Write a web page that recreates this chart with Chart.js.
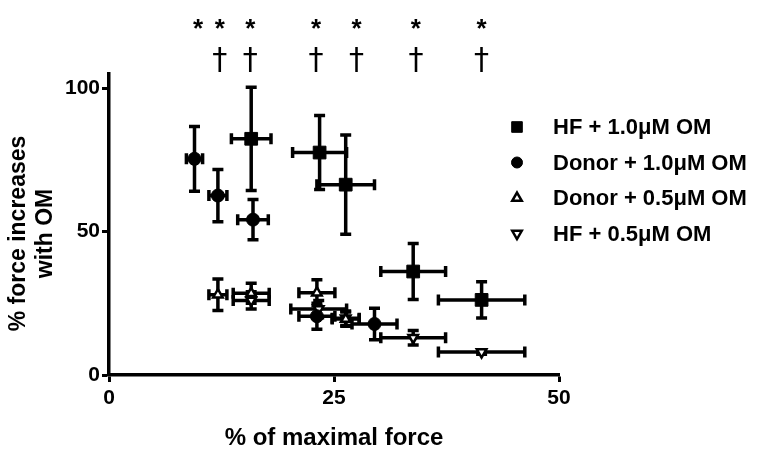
<!DOCTYPE html>
<html>
<head>
<meta charset="utf-8">
<script src="https://cdn.jsdelivr.net/npm/chart.js@4"></script>
<style>
  html, body { margin: 0; padding: 0; background: #fff; }
  #wrap { width: 763px; height: 457px; }
</style>
</head>
<body>
<div id="wrap"><canvas id="myChart"></canvas></div>
<script>
const FONT = '"Liberation Sans", Arial, sans-serif'

// values (x = % of maximal force, y = % force increase)
const hf10X = [15.8, 23.4, 26.3, 33.8, 41.4]
const hf10Y = [82.4, 77.6, 66.4, 36.1, 26.2]
const hf10XErr = [2.2, 3.0, 3.2, 3.6, 4.8]
const hf10YErr = [18.0, 12.9, 17.3, 9.8, 6.3]

const donor10X = [9.5, 12.1, 16.0, 23.1, 29.5]
const donor10Y = [75.4, 62.6, 54.2, 20.5, 17.8]
const donor10XErr = [0.9, 1.0, 1.7, 2.0, 2.5]
const donor10YErr = [11.3, 9.1, 7.0, 4.5, 5.5]

const donor05X = [12.1, 15.8, 23.1, 26.3]
const donor05Y = [28.0, 28.5, 28.7, 19.5]
const donor05XErr = [1.0, 2.0, 2.0, 1.5]
const donor05YErr = [5.5, 3.5, 4.5, 2.5]

const hf05X = [15.8, 23.3, 26.3, 33.8, 41.4]
const hf05Y = [26.0, 23.0, 19.8, 13.0, 8.0]
const hf05XErr = [2.0, 3.1, 1.5, 3.6, 4.8]
const hf05YErr = [3.0, 3.0, 2.5, 2.5, 0.8]

const seriesLabels = ['HF + 1.0μM OM', 'Donor + 1.0μM OM', 'Donor + 0.5μM OM', 'HF + 0.5μM OM']
const yTitle = ['% force increases', 'with OM']

// significance marks above the plot
const starX = [9.9, 12.3, 15.7, 23.0, 27.5, 34.1, 41.4]
const daggerX = [12.3, 15.7, 23.0, 27.5, 34.1, 41.4]

const xTicks = [0, 25, 50]
const yTicks = [0, 50, 100]

function pts(xs, ys, xe, ye) {
  return xs.map((x, i) => ({ x: x, y: ys[i], xErr: xe[i], yErr: ye[i] }))
}

const errorBars = {
  id: 'errorBars',
  beforeDatasetsDraw(chart) {
    const ctx = chart.ctx
    const xs = chart.scales.x
    const ys = chart.scales.y
    const cap = 5.5
    ctx.save()
    ctx.strokeStyle = '#000'
    ctx.lineWidth = 3.5
    ctx.lineCap = 'butt'
    chart.data.datasets.forEach(ds => {
      ds.data.forEach(p => {
        const cx = xs.getPixelForValue(p.x)
        const cy = ys.getPixelForValue(p.y)
        const x1 = xs.getPixelForValue(p.x - p.xErr)
        const x2 = xs.getPixelForValue(p.x + p.xErr)
        const y1 = ys.getPixelForValue(p.y + p.yErr)
        const y2 = ys.getPixelForValue(p.y - p.yErr)
        ctx.beginPath()
        ctx.moveTo(x1, cy); ctx.lineTo(x2, cy)
        ctx.moveTo(x1, cy - cap); ctx.lineTo(x1, cy + cap)
        ctx.moveTo(x2, cy - cap); ctx.lineTo(x2, cy + cap)
        ctx.moveTo(cx, y1); ctx.lineTo(cx, y2)
        ctx.moveTo(cx - cap, y1); ctx.lineTo(cx + cap, y1)
        ctx.moveTo(cx - cap, y2); ctx.lineTo(cx + cap, y2)
        ctx.stroke()
      })
    })
    ctx.restore()
  }
}

const extras = {
  id: 'extras',
  afterDraw(chart) {
    const ctx = chart.ctx
    const xs = chart.scales.x
    const ys = chart.scales.y
    ctx.save()
    ctx.fillStyle = '#000'
    ctx.textAlign = 'center'
    ctx.textBaseline = 'middle'
    ctx.font = 'bold 26px ' + FONT
    starX.forEach(v => ctx.fillText('*', xs.getPixelForValue(v), 30))
    ctx.font = '30px "DejaVu Sans"'
    daggerX.forEach(v => ctx.fillText('†', xs.getPixelForValue(v), 61))

    // y axis title
    ctx.save()
    ctx.translate(0, (ys.top + ys.bottom) / 2 + 9)
    ctx.rotate(-Math.PI / 2)
    ctx.font = 'bold 23px ' + FONT
    ctx.fillText(yTitle[0], 0, 19)
    ctx.fillText(yTitle[1], 0, 46)
    ctx.restore()

    // legend
    const lx = 517, tx = 553, y0 = 127, dy = 35.5
    ctx.textAlign = 'left'
    ctx.font = 'bold 22px ' + FONT
    chart.data.datasets.forEach((ds, i) => {
      const y = y0 + i * dy
      const open = ds.pointStyle === 'triangle'
      ctx.fillStyle = open ? '#fff' : '#000'
      ctx.strokeStyle = '#000'
      ctx.lineWidth = open ? 2.5 : 1
      Chart.helpers.drawPoint(ctx, {
        pointStyle: ds.pointStyle,
        rotation: ds.pointRotation || 0,
        radius: ds.pointStyle === 'rect' ? 7.5 : 5.5,
        borderWidth: ctx.lineWidth
      }, lx, y)
      ctx.fillStyle = '#000'
      ctx.fillText(ds.label, tx, y + 1)
    })
    ctx.restore()
  }
}

const ctx1 = document.getElementById('myChart')

const myChart = new Chart(ctx1, {
  type: 'scatter',
  data: {
    datasets: [
      {
        label: seriesLabels[0],
        data: pts(hf10X, hf10Y, hf10XErr, hf10YErr),
        pointStyle: 'rect', pointRadius: 9,
        backgroundColor: '#000', borderColor: '#000', pointBorderWidth: 1
      },
      {
        label: seriesLabels[1],
        data: pts(donor10X, donor10Y, donor10XErr, donor10YErr),
        pointStyle: 'circle', pointRadius: 6.5,
        backgroundColor: '#000', borderColor: '#000', pointBorderWidth: 1
      },
      {
        label: seriesLabels[2],
        data: pts(donor05X, donor05Y, donor05XErr, donor05YErr),
        pointStyle: 'triangle', pointRadius: 5.5,
        backgroundColor: '#fff', borderColor: '#000', pointBorderWidth: 2.5
      },
      {
        label: seriesLabels[3],
        data: pts(hf05X, hf05Y, hf05XErr, hf05YErr),
        pointStyle: 'triangle', pointRotation: 180, pointRadius: 5.5,
        backgroundColor: '#fff', borderColor: '#000', pointBorderWidth: 2.5
      }
    ]
  },
  options: {
    responsive: true,
    maintainAspectRatio: false,
    animation: false,
    layout: { padding: { top: 74, right: 204, left: 0, bottom: 4 } },
    plugins: {
      legend: { display: false },
      tooltip: { enabled: false }
    },
    scales: {
      x: {
        type: 'linear',
        min: 0, max: 50,
        afterBuildTicks: s => { s.ticks = xTicks.map(v => ({ value: v })) },
        afterFit: s => { s.height = 78 },
        ticks: { color: '#000', font: { family: FONT, size: 21, weight: 'bold' }, padding: 4 },
        grid: { drawOnChartArea: false, drawTicks: true, tickLength: 7, tickWidth: 3, tickColor: '#000' },
        border: { display: true, width: 3.5, color: '#000' },
        title: {
          display: true, text: '% of maximal force', color: '#000',
          font: { family: FONT, size: 24, weight: 'bold' }, padding: { top: 14, bottom: 0 }
        }
      },
      y: {
        type: 'linear',
        min: 0, max: 105,
        afterBuildTicks: s => { s.ticks = yTicks.map(v => ({ value: v })) },
        afterFit: s => { s.width = 109 },
        ticks: { color: '#000', font: { family: FONT, size: 21, weight: 'bold' }, padding: 2 },
        grid: { drawOnChartArea: false, drawTicks: true, tickLength: 7, tickWidth: 3, tickColor: '#000' },
        border: { display: true, width: 3.5, color: '#000' },
        title: { display: false }
      }
    }
  },
  plugins: [errorBars, extras]
})
</script>
</body>
</html>
